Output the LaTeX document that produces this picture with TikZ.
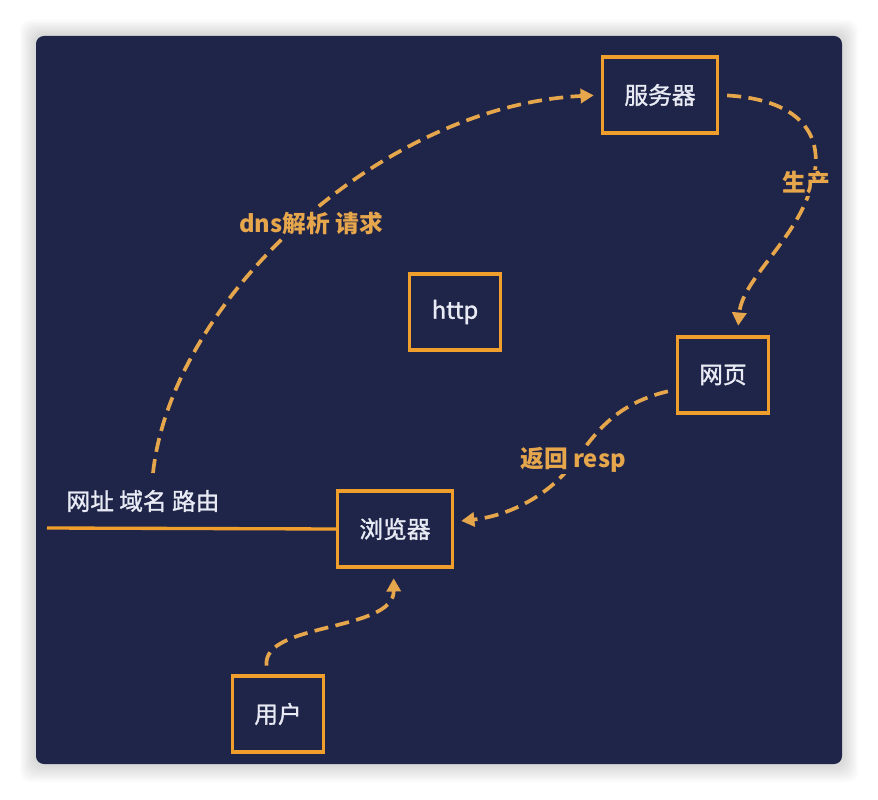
\documentclass[tikz,border=0pt]{standalone}
\usepackage{fontspec}
\setmainfont{Noto Sans CJK SC}
\newfontfamily\boxfont{Noto Sans CJK SC}[FakeBold=1.3]
\usetikzlibrary{arrows.meta}

\definecolor{panel}{HTML}{1F2449}
\definecolor{flow}{HTML}{E6A64C}
\definecolor{frame}{HTML}{F09E2C}
\definecolor{ink}{HTML}{E8EBF3}

\tikzset{
  box/.style={draw=frame, line width=1.9pt, fill=panel, text=ink,
    font=\boxfont\fontsize{13.5}{16}\selectfont, inner xsep=0.44cm, minimum height=1.52cm},
  flowline/.style={draw=flow, line width=2.1pt, dash pattern=on 8pt off 4.2pt,
    -{Triangle[length=7.5pt,width=8pt]}},
  flowtag/.style={text=flow, fill=panel, inner sep=1pt,
    font=\bfseries\fontsize{13.5}{16}\selectfont}
}

\begin{document}
\begin{tikzpicture}[x=0.02cm, y=-0.02cm]

            \useasboundingbox (0,0) rectangle (878,800);

            % Panel with a soft shadow
            \foreach \g in {1,...,10}
                \fill[black, opacity=0.014, rounded corners=6pt]
                    (36-1.6*\g,36-1.6*\g) rectangle (842+1.6*\g,764+1.8*\g);
            \fill[panel, rounded corners=4.5pt] (36,36) rectangle (842,764);

            % --------------------------------------------------
            % Boxes
            % --------------------------------------------------
            \node[box] (srv)  at (660,95)  {服务器};
            \node[box] (http) at (455,312) {http};
            \node[box] (page) at (723,375) {网页};
            \node[box] (brow) at (395,529) {浏览器};
            \node[box] (user) at (278,714) {用户};

            % Address line into the browser
            \coordinate (lineend) at (47,528);
            \draw[frame, line width=1.9pt] (lineend) -- (brow.west);
            \node[text=ink, font=\boxfont\fontsize{13.5}{16}\selectfont] (addr) at (143,501) {网址 域名 路由};

            % --------------------------------------------------
            % Flows
            % --------------------------------------------------
            \coordinate (dnsstart) at (153,473);
            \draw[flowline, shorten >=4pt]
                (dnsstart) .. controls (172,300) and (380,106) .. (srv.west);

            \draw[flowline, shorten <=4.5pt, shorten >=5.5pt]
                (srv.east) .. controls (805,100) and (828,140) .. (810,190)
                .. controls (795,240) and (742,280) .. (page.70);

            \draw[flowline, shorten <=4.5pt, shorten >=4pt]
                (page.197) .. controls (610,405) and (592,440) .. (575,460)
                .. controls (555,490) and (515,515) .. (brow.7);

            \draw[flowline, shorten <=5pt, shorten >=5.5pt]
                (user.105) .. controls (262,622) and (394,632) .. (brow.268);

            % Flow labels
            \node[flowtag] (dnstag)  at (311,223) {dns解析 请求};
            \node[flowtag] (maketag) at (806,183) {生产};
            \node[flowtag] (resptag) at (573,460) {返回 resp};

        \end{tikzpicture}
\end{document}
